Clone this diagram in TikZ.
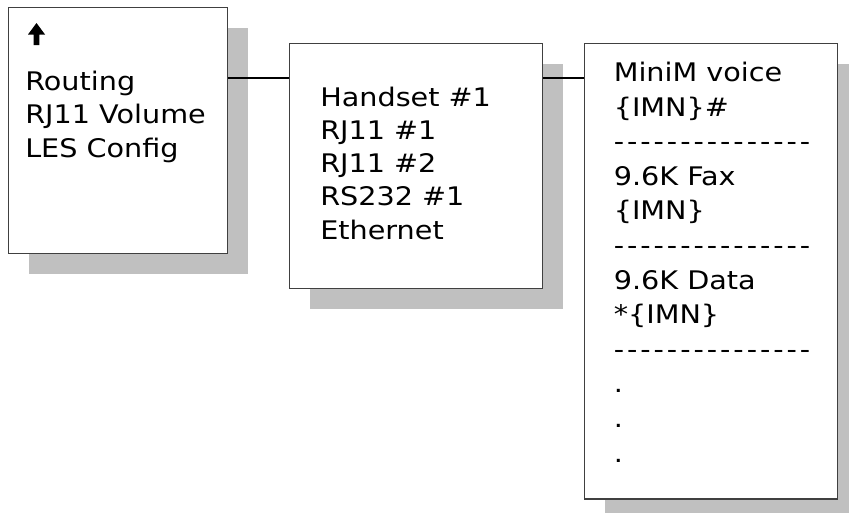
\documentclass[tikz,border=0pt]{standalone}
\usepackage{fontspec}
\usetikzlibrary{calc,shadows}

\newfontfamily\boxfont[FakeStretch=1.12]{DejaVu Sans}
\definecolor{shadowgray}{HTML}{C0C0C0}
\definecolor{framegray}{HTML}{404040}
\newcommand{\dashrow}{\foreach \k in {1,...,15}{-\kern2.1pt}}

\begin{document}
\begin{tikzpicture}[x=0.025cm,y=-0.025cm,
  menubox/.style={draw=framegray, line width=1pt, fill=white, inner sep=0pt, anchor=north west,
    drop shadow={shadow xshift=0.5cm, shadow yshift=-0.5cm, fill=shadowgray, opacity=1}},
  menutext/.style={anchor=base west, align=left, inner sep=0pt,
    font=\boxfont\fontsize{18.2}{#1}\selectfont},
  menutext/.default=23.5,
  link/.style={draw=black, line width=1pt}]

\useasboundingbox (0,0) rectangle (849,513);

% Menu boxes
\node[menubox, minimum width=5.475cm, minimum height=6.15cm] (main) at (8,7) {};
\node[menubox, minimum width=6.325cm, minimum height=6.125cm] (ports) at (289,43) {};
\node[menubox, minimum width=6.325cm, minimum height=11.375cm] (calls) at (584,43) {};

% Links
\coordinate (tap) at ($(ports.north west)+(0,35)$);
\draw[link] (main.east |- tap) -- (tap);
\draw[link] (ports.east |- tap) -- (calls.west |- tap);

% Up arrow
\fill[black] (36.5,23) -- (45,34.5) -- (39.3,34.5) -- (39.3,45) -- (33.7,45) -- (33.7,34.5) -- (28,34.5) -- cycle;

% Entries (placed at the baseline of the last line)
\node[menutext] (maintxt) at ($(main.north west)+(17,150)$) {Routing\\RJ11 Volume\\LES Config};
\node[menutext] (portstxt) at ($(ports.north west)+(31,196)$)
  {Handset \#1\\RJ11 \#1\\RJ11 \#2\\RS232 \#1\\Ethernet};
\node[menutext=24.6] (callstxt) at ($(calls.north west)+(29.5,419)$)
  {MiniM voice\\\{IMN\}\#\\\dashrow\\9.6K Fax\\\{IMN\}\\\dashrow\\9.6K Data\\*\{IMN\}\\\dashrow\\.\\.\\.};

\end{tikzpicture}
\end{document}
